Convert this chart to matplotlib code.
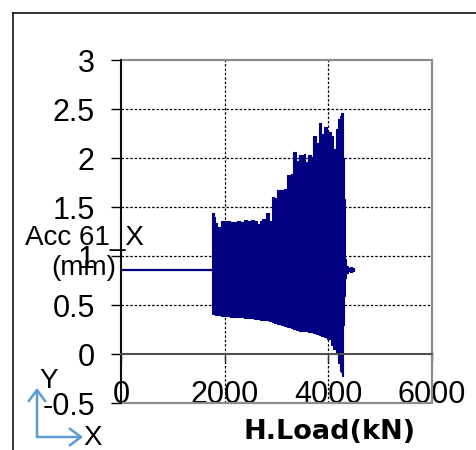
import matplotlib
matplotlib.use("Agg")
import matplotlib.pyplot as plt
from matplotlib.lines import Line2D
from matplotlib.patches import Rectangle

plt.rcParams['font.family'] = ['Liberation Sans', 'DejaVu Sans']

# ---- data ----
# flat (pre-excitation) record
pre_load = [0, 1760]
pre_acc = [0.865, 0.865]

# envelope of the oscillating record (load in kN, upper / lower displacement in mm)
load_kN = [1760, 1790, 1802, 1854, 1919, 1980, 2100, 2240, 2300, 2370, 2435, 2500,
           2560, 2630, 2680, 2727, 2792, 2857, 2909, 2955, 3007, 3080, 3150, 3202,
           3280, 3325, 3377, 3442, 3526, 3552, 3604, 3669, 3715, 3767, 3819, 3864,
           3916, 3981, 4046, 4092, 4143, 4189, 4221, 4254, 4270, 4288, 4296, 4305,
           4322, 4345, 4380, 4430, 4470, 4500]
upper = [1.445, 1.40, 1.335, 1.30, 1.36, 1.36, 1.355, 1.36, 1.355, 1.375, 1.36, 1.375,
         1.36, 1.33, 1.36, 1.38, 1.44, 1.36, 1.61, 1.59, 1.68, 1.68, 1.69, 1.83,
         1.84, 2.06, 1.97, 2.03, 2.04, 1.96, 2.03, 2.01, 2.23, 2.16, 2.36, 2.25,
         2.32, 2.27, 2.23, 2.09, 2.30, 2.40, 2.43, 2.465, 2.465, 2.465, 2.0, 1.58,
         0.97, 0.90, 0.88, 0.89, 0.88, 0.866]
lower = [0.41, 0.41, 0.40, 0.40, 0.395, 0.39, 0.385, 0.38, 0.38, 0.375, 0.37, 0.37,
         0.365, 0.36, 0.355, 0.35, 0.345, 0.335, 0.325, 0.32, 0.31, 0.30, 0.29, 0.28,
         0.265, 0.26, 0.25, 0.24, 0.235, 0.235, 0.23, 0.23, 0.22, 0.21, 0.20, 0.19,
         0.175, 0.16, 0.09, 0.05, 0.017, -0.085, -0.17, -0.18, -0.22, 0.10, 0.30, 0.60,
         0.78, 0.83, 0.85, 0.84, 0.85, 0.864]

x_ticks = [0, 2000, 4000, 6000]
x_ticklabels = ["0", "2000", "4000", "6000"]
y_ticks = [-0.5, 0, 0.5, 1, 1.5, 2, 2.5, 3]
y_ticklabels = ["-0.5", "0", "0.5", "1", "1.5", "2", "2.5", "3"]
grid_x = [2000, 4000]
grid_y = [0.5, 1, 1.5, 2, 2.5]

NAVY = "#000080"

fig = plt.figure(figsize=(4.76, 4.5), dpi=100)
fig.patch.set_facecolor("white")
ax = fig.add_axes([121.5 / 476, 1 - 403.3 / 450, 310 / 476, 343 / 450])

ax.set_xlim(0, 6000)
ax.set_ylim(-0.5, 3)

# grid
for gx in grid_x:
    ax.axvline(gx, color="black", lw=0.9, linestyle=(0, (2, 1.5)), zorder=1)
for gy in grid_y:
    ax.axhline(gy, color="black", lw=0.9, linestyle=(0, (2, 1.5)), zorder=1)

# data
ax.plot(pre_load, pre_acc, color=NAVY, lw=1.6, zorder=3)
ax.fill_between(load_kN, lower, upper, step="post", color=NAVY, lw=0.8,
                edgecolor=NAVY, zorder=3)

# outer frame
ax.add_patch(Rectangle((0, 0), 1, 1, transform=ax.transAxes, fill=False,
                       ec="#8c8c8c", lw=1.6, zorder=4, clip_on=False))

for s in ["top", "right"]:
    ax.spines[s].set_visible(False)
ax.spines["left"].set_color("black")
ax.spines["left"].set_linewidth(1.3)
ax.spines["left"].set_zorder(5)
ax.spines["bottom"].set_position(("data", 0))
ax.spines["bottom"].set_color("#505050")
ax.spines["bottom"].set_linewidth(1.5)
ax.spines["bottom"].set_zorder(5)

ax.set_xticks(x_ticks)
ax.set_xticklabels(x_ticklabels)
ax.set_yticks(y_ticks)
ax.set_yticklabels(y_ticklabels)
ax.tick_params(axis="y", direction="out", length=7.2, width=1, color="black",
               labelsize=22, pad=12)
ax.tick_params(axis="x", direction="out", length=5.5, width=1, color="#303030",
               labelsize=22, pad=13)

# labels
fig.text(84 / 476, 1 - 253 / 450, "Acc 61_X\n(mm)", ha="center", va="center",
         fontsize=20, multialignment="center")
fig.text(330 / 476, 1 - 432 / 450, "H.Load(kN)", ha="center", va="center",
         fontsize=19.5, fontweight="bold", family="DejaVu Sans")

# direction indicator
ARROW = "#5b9bd5"
ax.annotate("", xy=(37, 450 - 388), xytext=(37, 450 - 437),
            xycoords="figure pixels", textcoords="figure pixels",
            arrowprops=dict(arrowstyle="->,head_length=0.8,head_width=0.6",
                            color=ARROW, lw=1.8, shrinkA=0, shrinkB=0))
ax.annotate("", xy=(83, 450 - 437), xytext=(37, 450 - 437),
            xycoords="figure pixels", textcoords="figure pixels",
            arrowprops=dict(arrowstyle="->,head_length=0.8,head_width=0.6",
                            color=ARROW, lw=1.8, shrinkA=0, shrinkB=0))
fig.text(49 / 476, 1 - 381 / 450, "Y", ha="center", va="center", fontsize=20)
fig.text(93 / 476, 1 - 438 / 450, "X", ha="center", va="center", fontsize=20)

# page border
fig.add_artist(Line2D([13 / 476, 13 / 476], [0, 1 - 12.5 / 450], color="black", lw=1.1))
fig.add_artist(Line2D([13 / 476, 1], [1 - 12.5 / 450, 1 - 12.5 / 450], color="black", lw=1.1))

fig.savefig("out.png", dpi=100)
